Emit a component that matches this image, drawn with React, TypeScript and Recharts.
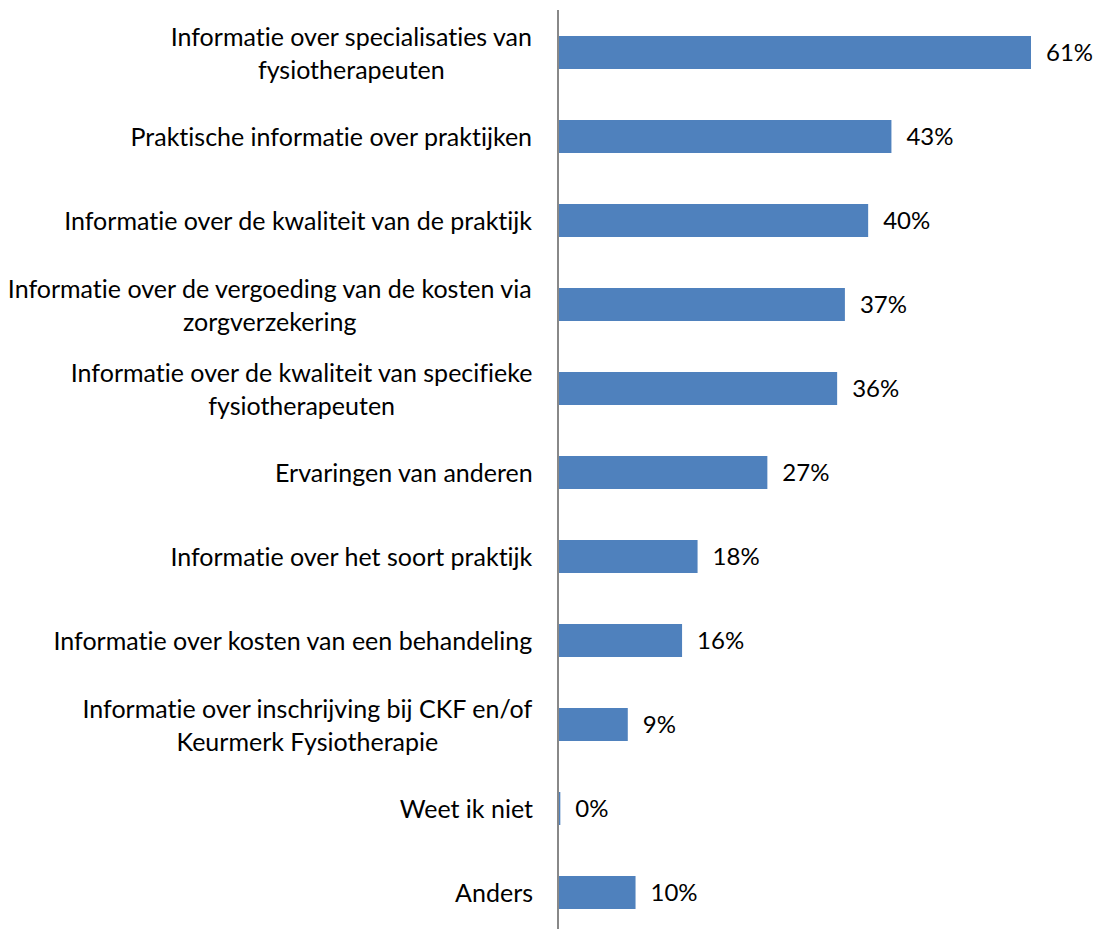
import React from "react";
import { BarChart, Bar, XAxis, YAxis, LabelList } from "recharts";

// Antwoordcategorieën (regelafbreking zoals in het origineel)
const categories = [
  "Informatie over specialisaties van\nfysiotherapeuten",
  "Praktische informatie over praktijken",
  "Informatie over de kwaliteit van de praktijk",
  "Informatie over de vergoeding van de kosten via\nzorgverzekering",
  "Informatie over de kwaliteit van specifieke\nfysiotherapeuten",
  "Ervaringen van anderen",
  "Informatie over het soort praktijk",
  "Informatie over kosten van een behandeling",
  "Informatie over inschrijving bij CKF en/of\nKeurmerk Fysiotherapie",
  "Weet ik niet",
  "Anders",
];

const percentages = [61, 43, 40, 37, 36, 27, 18, 16, 9, 0.3, 10];

const data = categories.map((name, i) => ({ name, value: percentages[i] }));

const FONT = "Lato, 'Open Sans', sans-serif";
const FONT_SIZE = 25;
const LINE_H = 33;

let ctx: CanvasRenderingContext2D | null = null;
function textWidth(s: string) {
  if (!ctx) ctx = document.createElement("canvas").getContext("2d");
  if (!ctx) return s.length * FONT_SIZE * 0.5;
  ctx.font = `${FONT_SIZE}px Lato`;
  return ctx.measureText(s).width;
}

function CategoryTick(props: any) {
  const { x, y, payload } = props;
  const lines: string[] = String(payload.value).split("\n");
  const w = Math.max(...lines.map(textWidth));
  const cx = x - w / 2;
  const startY = y - ((lines.length - 1) * LINE_H) / 2;
  return (
    <g>
      {lines.map((l, i) => (
        <text
          key={i}
          x={cx}
          y={startY + i * LINE_H}
          textAnchor="middle"
          dominantBaseline="central"
          fontFamily={FONT}
          fontSize={FONT_SIZE}
          fill="#000"
          style={{ fontVariantLigatures: "none" }}
        >
          {l}
        </text>
      ))}
    </g>
  );
}

export default function App() {
  return (
    <div style={{ position: "absolute", left: 0, top: 0 }}>
      <BarChart
        width={1097}
        height={935}
        data={data}
        layout="vertical"
        margin={{ top: 10, right: 66, bottom: 1, left: 0 }}
        barCategoryGap={0}
      >
        <XAxis type="number" domain={[0, 61]} hide />
        <YAxis
          type="category"
          dataKey="name"
          width={558}
          tickLine={false}
          tickMargin={19}
          axisLine={{ stroke: "#888888", strokeWidth: 2 }}
          tick={<CategoryTick />}
          interval={0}
        />
        <Bar dataKey="value" fill="#4F81BD" barSize={33} isAnimationActive={false}>
          <LabelList
            dataKey="value"
            position="right"
            offset={15}
            formatter={(v: any) => `${Math.round(Number(v))}%`}
            style={{ fontFamily: FONT, fontSize: 24, fill: "#000" }}
          />
        </Bar>
      </BarChart>
    </div>
  );
}
